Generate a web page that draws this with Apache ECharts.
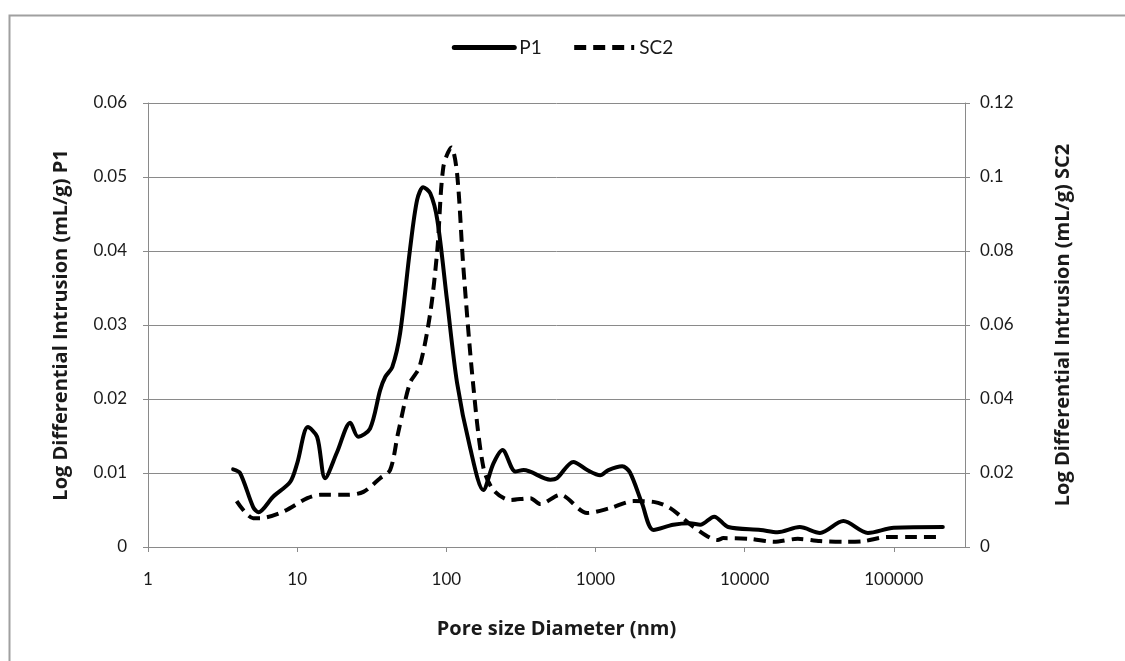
<!DOCTYPE html>
<html>
<head>
<meta charset="utf-8">
<script src="https://cdn.jsdelivr.net/npm/echarts@6/dist/echarts.min.js"></script>
<style>
html,body{margin:0;padding:0;background:#fff;}
#chart{width:1125px;height:661px;}
</style>
</head>
<body>
<div id="chart"></div>
<script>
// Pore size diameter (nm) and log differential intrusion (mL/g)
var p1Diameter = [3.72, 4.14, 5.07, 5.5, 6.9, 8.98, 10, 11.8, 13.6, 15.4, 18.5, 22.7, 25.6, 30.8, 36, 39, 43.4, 49, 57, 63.7, 70, 78, 87, 101, 118, 144, 177, 207, 238, 290, 330, 498, 552, 710, 880, 1075, 1220, 1510, 1700, 2050, 2450, 3320, 4300, 5040, 6250, 7750, 12800, 16600, 23400, 32000, 45900, 67000, 100000, 213000];
var p1Values = [0.0105, 0.0100, 0.0054, 0.0047, 0.0068, 0.0088, 0.0113, 0.0162, 0.0149, 0.0093, 0.0128, 0.0168, 0.0149, 0.0160, 0.0212, 0.0230, 0.0243, 0.0289, 0.0401, 0.0469, 0.0486, 0.0478, 0.0442, 0.0334, 0.0222, 0.0135, 0.0077, 0.0113, 0.0131, 0.0102, 0.0104, 0.0091, 0.0093, 0.0115, 0.0104, 0.0097, 0.0104, 0.0109, 0.0101, 0.0059, 0.0023, 0.0030, 0.0032, 0.0030, 0.0041, 0.0027, 0.0023, 0.0020, 0.0027, 0.0019, 0.0035, 0.0019, 0.0026, 0.0027];

var sc2Diameter = [3.93, 5.07, 5.6, 8.0, 11.7, 14.3, 21.7, 27.8, 36, 42, 47.5, 57, 66, 78, 87, 95.5, 108, 118, 130, 151, 177, 207, 268, 366, 427, 580, 880, 1250, 1800, 2450, 3170, 4560, 6600, 7200, 10900, 15700, 22700, 32000, 46500, 63000, 90000, 137000, 213000];
var sc2Values = [0.0124, 0.0078, 0.0078, 0.0095, 0.0132, 0.0141, 0.0141, 0.0149, 0.0186, 0.0208, 0.0308, 0.0443, 0.0486, 0.0632, 0.0803, 0.1027, 0.1080, 0.1010, 0.0757, 0.0443, 0.0216, 0.0154, 0.0127, 0.0132, 0.0116, 0.0141, 0.0092, 0.0105, 0.0124, 0.0122, 0.0105, 0.0054, 0.0019, 0.0024, 0.0022, 0.0014, 0.0022, 0.0016, 0.0014, 0.0016, 0.0027, 0.0027, 0.0027];

var seriesNames = ['P1', 'SC2'];
var xTitle = 'Pore size Diameter (nm)';
var yLeftTitle = 'Log Differential Intrusion (mL/g) P1';
var yRightTitle = 'Log Differential Intrusion (mL/g) SC2';

function pairs(xs, ys) { return xs.map(function (x, i) { return [x, ys[i]]; }); }

var FONT = 'Lato, "Open Sans", sans-serif';
var TITLE_FONT = '"Open Sans", Lato, sans-serif';
var AXIS_COLOR = '#8a8a8a';
var TEXT_COLOR = '#1a1a1a';

var chart = echarts.init(document.getElementById('chart'), null, {renderer: 'canvas'});
chart.setOption({
  animation: false,
  backgroundColor: '#fff',
  textStyle: {fontFamily: FONT},
  graphic: [{
    type: 'rect', left: 7, top: 13, silent: true,
    shape: {width: 1200, height: 700},
    style: {fill: 'none', stroke: '#a0a0a0', lineWidth: 2}
  }],
  legend: {
    top: 33, left: 'center',
    itemWidth: 60, itemHeight: 16, itemGap: 30,
    itemStyle: {color: 'rgba(0,0,0,0)', borderWidth: 0},
    lineStyle: {width: 5, color: '#000'},
    textStyle: {fontFamily: FONT, fontSize: 19, color: TEXT_COLOR},
    data: seriesNames
  },
  grid: {left: 148, right: 160, top: 103, bottom: 114, containLabel: false},
  xAxis: {
    type: 'log', logBase: 10, min: 1, max: 300000,
    name: xTitle, nameLocation: 'middle', nameGap: 72,
    nameTextStyle: {fontFamily: TITLE_FONT, fontSize: 20, fontWeight: 'bold', color: TEXT_COLOR},
    axisLine: {show: true, lineStyle: {color: AXIS_COLOR, width: 1}},
    axisTick: {show: true, length: 5, lineStyle: {color: AXIS_COLOR}},
    axisLabel: {
      fontFamily: FONT, fontSize: 17, color: TEXT_COLOR, margin: 24, showMaxLabel: false,
      formatter: function (v) {
        var e = Math.log10(v);
        return Math.abs(e - Math.round(e)) < 1e-6 ? String(Math.round(v)) : '';
      }
    },
    splitLine: {show: false},
    minorTick: {show: false}
  },
  yAxis: [{
    type: 'value', min: 0, max: 0.06, interval: 0.01, position: 'left',
    name: yLeftTitle, nameLocation: 'middle', nameGap: 77, nameRotate: 90,
    nameTextStyle: {fontFamily: TITLE_FONT, fontSize: 20, fontWeight: 'bold', color: TEXT_COLOR},
    axisLine: {show: true, lineStyle: {color: AXIS_COLOR}},
    axisTick: {show: true, length: 5, lineStyle: {color: AXIS_COLOR}},
    axisLabel: {fontFamily: FONT, fontSize: 17, color: TEXT_COLOR, margin: 21},
    splitLine: {show: true, lineStyle: {color: AXIS_COLOR, width: 1}}
  }, {
    type: 'value', min: 0, max: 0.12, interval: 0.02, position: 'right',
    name: yRightTitle, nameLocation: 'middle', nameGap: 88, nameRotate: 90,
    nameTextStyle: {fontFamily: TITLE_FONT, fontSize: 20, fontWeight: 'bold', color: TEXT_COLOR},
    axisLine: {show: true, lineStyle: {color: AXIS_COLOR}},
    axisTick: {show: true, length: 5, lineStyle: {color: AXIS_COLOR}},
    axisLabel: {fontFamily: FONT, fontSize: 17, color: TEXT_COLOR, margin: 15},
    splitLine: {show: false}
  }],
  series: [{
    name: seriesNames[0], type: 'line', yAxisIndex: 0,
    data: pairs(p1Diameter, p1Values),
    smooth: 0.3, symbol: 'none', showSymbol: false,
    lineStyle: {color: '#000', width: 4, type: 'solid', cap: 'round', join: 'round'},
    itemStyle: {color: '#000'}
  }, {
    name: seriesNames[1], type: 'line', yAxisIndex: 1,
    data: pairs(sc2Diameter, sc2Values),
    smooth: 0.3, symbol: 'none', showSymbol: false,
    lineStyle: {color: '#000', width: 4, type: [12, 7], cap: 'butt', join: 'round'},
    itemStyle: {color: '#000'}
  }]
});
</script>
</body>
</html>
